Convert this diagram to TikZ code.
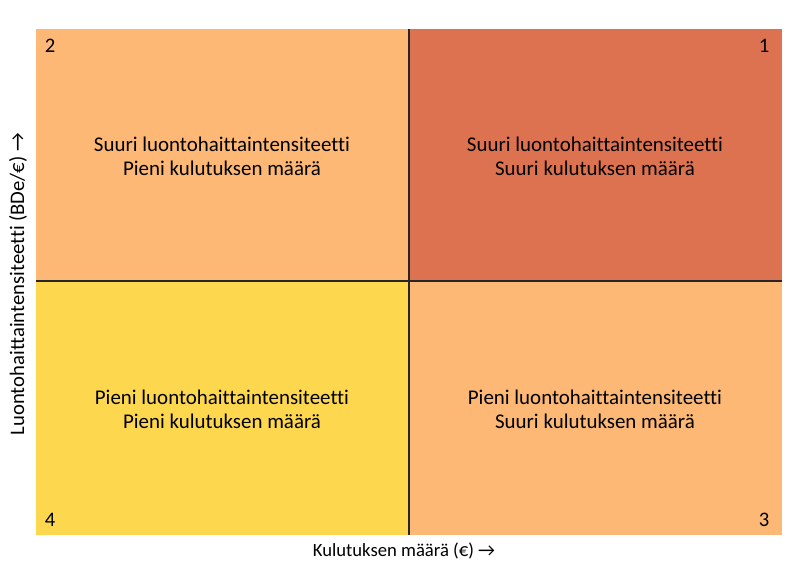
\documentclass[tikz,border=0pt]{standalone}
\usepackage{fontspec}
\setmainfont{Carlito}[Ligatures=NoCommon]
\usepackage{tikz}
\usetikzlibrary{positioning}
\definecolor{hell}{HTML}{FCB874}
\definecolor{dunkel}{HTML}{DD7250}
\definecolor{gelb}{HTML}{FDD84F}
\begin{document}
\begin{tikzpicture}[x=0.75pt,y=-0.75pt,
feld/.style={align=center,font=\fontsize{15.7}{18}\selectfont},
zahl/.style={font=\fontsize{15.5}{18}\selectfont},
achse/.style={font=\fontsize{14}{14}\selectfont}]
\useasboundingbox (0,0) rectangle (804,580);
\fill[hell] (36,29) rectangle (408.5,281.5);
\fill[dunkel] (408.5,29) rectangle (781.5,281.5);
\fill[gelb] (36,281.5) rectangle (408.5,535);
\fill[hell] (408.5,281.5) rectangle (781.5,535);
\coordinate (oben) at (408.5,29);
\coordinate (unten) at (408.5,535);
\coordinate (links) at (36,281.5);
\coordinate (rechts) at (781.5,281.5);
\draw[line width=1.5pt,black!85] (oben) -- (unten);
\draw[line width=1.5pt,black!85] (links) -- (rechts);
\node[feld] (q2) at (222,156) {Suuri luontohaittaintensiteetti\\Pieni kulutuksen määrä};
\node[feld] (q1) at (595,156) {Suuri luontohaittaintensiteetti\\Suuri kulutuksen määrä};
\node[feld] (q4) at (222,409) {Pieni luontohaittaintensiteetti\\Pieni kulutuksen määrä};
\node[feld] (q3) at (595,409) {Pieni luontohaittaintensiteetti\\Suuri kulutuksen määrä};
\node[zahl] (z2) at (50,46) {2};
\node[zahl] (z1) at (764,46) {1};
\node[zahl] (z4) at (50,520) {4};
\node[zahl] (z3) at (764,520) {3};
\node[achse] (xlab) at (404,551) {Kulutuksen määrä (€) →};
\node[zahl,rotate=90] (ylab) at (18,284) {Luontohaittaintensiteetti (BDe/€) →};
\end{tikzpicture}
\end{document}
